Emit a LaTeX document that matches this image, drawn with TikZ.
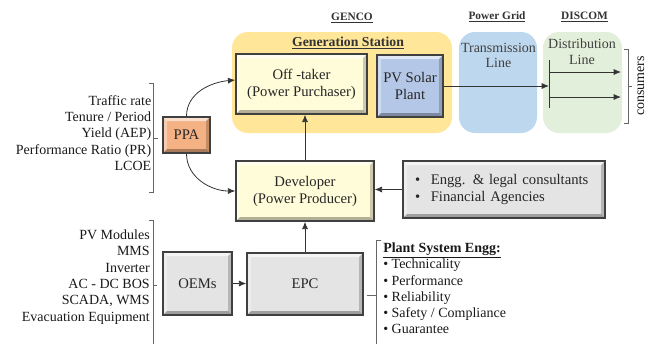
\documentclass[tikz,border=0pt]{standalone}
\usepackage{fontspec}
\setmainfont{Liberation Serif}
\usepackage{tikz}
\usetikzlibrary{arrows.meta}

\definecolor{genbg}{HTML}{FFE699}
\definecolor{gridbg}{HTML}{BDD7EE}
\definecolor{discombg}{HTML}{E2EFDA}
\definecolor{cream}{HTML}{FFFCD9}
\definecolor{pvblue}{HTML}{B4C7E7}
\definecolor{ppaorange}{HTML}{F4B183}
\definecolor{boxgray}{HTML}{E4E4E4}

\tikzset{
  bevel/.style={draw=black!75, line width=1.1pt, fill=#1, text=black!85,
    font=\fontsize{11}{12.75}\selectfont, align=center, inner sep=2pt,
    path picture={
      \fill[white,opacity=.6] (path picture bounding box.north west)
        -- (path picture bounding box.north east)
        -- ([shift={(-3pt,-3pt)}]path picture bounding box.north east)
        -- ([shift={(3pt,-3pt)}]path picture bounding box.north west) -- cycle;
      \fill[white,opacity=.35] (path picture bounding box.north west)
        -- ([shift={(3pt,-3pt)}]path picture bounding box.north west)
        -- ([shift={(3pt,3pt)}]path picture bounding box.south west)
        -- (path picture bounding box.south west) -- cycle;
      \fill[black,opacity=.3] (path picture bounding box.south west)
        -- ([shift={(3pt,3pt)}]path picture bounding box.south west)
        -- ([shift={(-3pt,3pt)}]path picture bounding box.south east)
        -- (path picture bounding box.south east) -- cycle;
      \fill[black,opacity=.2] (path picture bounding box.south east)
        -- ([shift={(-3pt,3pt)}]path picture bounding box.south east)
        -- ([shift={(-3pt,-3pt)}]path picture bounding box.north east)
        -- (path picture bounding box.north east) -- cycle;
    }},
  arr/.style={draw=black!80, line width=0.6pt, -{Latex[length=5.5pt,width=4.5pt]}},
  brk/.style={draw=black!60, line width=0.6pt},
  side/.style={font=\fontsize{10.5}{12.3}\selectfont, text=black!90, inner sep=0pt},
  head/.style={font=\fontsize{8.5}{10}\selectfont\bfseries, text=black!80},
}

\begin{document}
\begin{tikzpicture}[x=0.75pt,y=-0.75pt]
\useasboundingbox (0,0) rectangle (654,344);
% backgrounds:
\path[fill=genbg, rounded corners=12pt] (232,32) rectangle (452,133);
\path[fill=gridbg, rounded corners=12pt] (459,32) rectangle (537,133);
\path[fill=discombg, rounded corners=12pt] (543,32) rectangle (622,133);
% headings:
\node[head] (genco) at (352,18) {\underline{GENCO}};
\node[head] (powergrid) at (497,17) {\underline{Power Grid}};
\node[head] (discom) at (584.5,17) {\underline{DISCOM}};
\node[head, font=\fontsize{10.3}{11}\selectfont\bfseries] (genstation) at (348,43) {\underline{Generation Station}};
\node[align=center, text=black!75, font=\fontsize{10.5}{11.25}\selectfont] (transline) at (498.5,55.5) {Transmission\\Line};
\node[align=center, text=black!75, font=\fontsize{10.5}{12}\selectfont] (distline) at (582,52) {Distribution\\Line};
% boxes:
\node[bevel=cream, minimum width=98.25pt, minimum height=45pt] (offtaker) at (301.5,84) {Off -taker\\(Power Purchaser)};
\node[bevel=pvblue, minimum width=49.5pt, minimum height=46.5pt] (pv) at (410,86) {PV Solar\\Plant};
\node[bevel=ppaorange, minimum width=35.25pt, minimum height=27pt] (ppa) at (186.5,135) {PPA};
\node[bevel=cream, minimum width=103.5pt, minimum height=45pt] (dev) at (305,191) {Developer\\(Power Producer)};
\node[bevel=boxgray, minimum width=151.5pt, minimum height=42.75pt, text width=133.5pt, align=left] (agency) at (504,189.5)
  {\textbullet\hspace{8pt}Engg. \& legal consultants\\\textbullet\hspace{8pt}Financial Agencies};
\node[bevel=boxgray, minimum width=51.75pt, minimum height=47.25pt] (oems) at (197.5,283.5) {OEMs};
\node[bevel=boxgray, minimum width=87pt, minimum height=46.5pt] (epc) at (305,284) {EPC};
% side lists:
\node[side, align=right, anchor=east] (ppalist) at (151.5,133)
  {Traffic rate\\Tenure / Period\\Yield (AEP)\\Performance Ratio (PR)\\LCOE};
\node[side, align=right, anchor=east] (oemlist) at (150,277)
  {PV Modules\\MMS\\Inverter\\AC - DC BOS\\SCADA, WMS\\Evacuation Equipment};
\node[side, align=left, anchor=west, font=\fontsize{10.5}{12.2}\selectfont] (plantlist) at (383,288.5)
  {\underline{\textbf{Plant System Engg:}}\\\textbullet\ Technicality\\\textbullet\ Performance\\\textbullet\ Reliability\\\textbullet\ Safety / Compliance\\\textbullet\ Guarantee};
\node[side, rotate=90] (consumers) at (641,86) {consumers};
% brackets:
\draw[brk] (149,83) -- (153,83) -- (153,192) -- (149,192);
\draw[brk] (153,138) -- (158,138);
\draw[brk] (149,220) -- (153,220) -- (153,344);
\draw[brk] (153,285) -- (157,285);
\draw[brk] (381,240) -- (376,240) -- (376,344);
\draw[brk] (376,295.5) -- (367,295.5);
\draw[brk] (624,49) -- (628,49) -- (628,123) -- (624,123);
\draw[brk] (628,86) -- (632,86);
% distribution bus:
\coordinate (bustop) at (549,60);
\coordinate (busbot) at (549,108);
\coordinate (feedA) at (621,72);
\coordinate (feedB) at (621,97);
\draw[black!80, line width=0.6pt] (bustop) -- (busbot);
\draw[arr] (bustop |- feedA) -- (feedA);
\draw[arr] (bustop |- feedB) -- (feedB);
\draw[arr] (pv.east) -- (pv.east -| bustop);
% connectors:
\draw[arr] (ppa.north) to[out=90, in=185] ([yshift=3pt]offtaker.west);
\draw[arr] (ppa.south) to[out=-90, in=180] (dev.west);
\draw[arr] (dev.north) -- (dev.north |- offtaker.south);
\draw[arr] (agency.west) -- (agency.west -| dev.east);
\draw[arr] (epc.north) -- (dev.south);
\draw[arr] (oems.east) -- (oems.east -| epc.west);
\end{tikzpicture}
\end{document}
